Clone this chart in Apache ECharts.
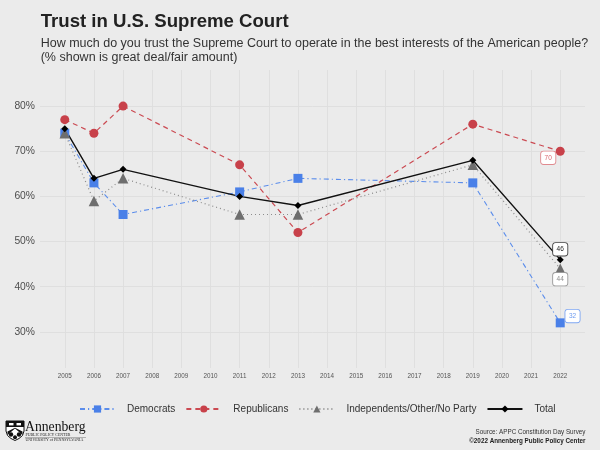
<!DOCTYPE html>
<html><head><meta charset="utf-8">
<script src="https://cdn.jsdelivr.net/npm/echarts@6/dist/echarts.min.js"></script>
<style>html,body{margin:0;padding:0;background:#EBEBEB}#c{width:600px;height:450px}</style>
</head><body><div id="c"></div>
<script>
const years = [2005, 2006, 2007, 2011, 2013, 2019, 2022];
const democrats = [74, 63, 56, 61, 64, 63, 32];
const republicans = [77, 74, 80, 67, 52, 76, 70];
const independents = [74, 59, 64, 56, 56, 67, 44];
const total = [75, 64, 66, 60, 58, 68, 46];
const seriesNames = ['Democrats', 'Republicans', 'Independents/Other/No Party', 'Total'];
const titleText = 'Trust in U.S. Supreme Court';
const subtitleLines = ['How much do you trust the Supreme Court to operate in the best interests of the American people?', '(% shown is great deal/fair amount)'];
const sourceText = 'Source: APPC Constitution Day Survey';
const copyrightText = '\u00A92022 Annenberg Public Policy Center';

const FONT = '"Liberation Sans", Arial, Helvetica, sans-serif';

function build(values, labelCfg) {
  const last = values.length - 1;
  return values.map((v, i) => {
    if (i !== last) return [years[i], v];
    return {
      value: [years[i], v],
      label: Object.assign({
        show: true, position: 'inside', fontFamily: FONT, fontSize: 6.5,
        backgroundColor: '#ffffff', borderWidth: 0.9, borderRadius: 2.5,
        padding: [2.5, 3.5, 2, 3.5], lineHeight: 8,
        formatter: p => String(p.value[1])
      }, labelCfg)
    };
  });
}

const shieldPts = [[0,0],[18,0],[18,10],[16.5,14.5],[13,17.5],[9,19.5],[5,17.5],[1.5,14.5],[0,10]];

const chart = echarts.init(document.getElementById('c'), null, {renderer: 'canvas'});
chart.setOption({
  animation: false,
  backgroundColor: '#EBEBEB',
  textStyle: {fontFamily: FONT},
  grid: {left: 40, right: 15, top: 70, bottom: 82},
  legend: {
    left: 74, top: 399,
    itemWidth: 35, itemHeight: 9, itemGap: 10,
    textStyle: {fontSize: 10, color: '#333333', padding: [0, 0, 0, 7]},
    data: seriesNames
  },
  xAxis: {
    type: 'value', min: 2004.15, max: 2022.85, splitNumber: 18,
    axisLine: {show: false}, axisTick: {show: false},
    axisLabel: {fontSize: 6.3, color: '#555555', margin: 5, showMinLabel: false, showMaxLabel: false,
      formatter: v => String(v)},
    splitLine: {show: true, showMinLine: false, showMaxLine: false, lineStyle: {color: '#DEDEDE', width: 0.9}}
  },
  yAxis: {
    type: 'value', min: 22, max: 88, splitNumber: 6,
    axisLine: {show: false}, axisTick: {show: false},
    axisLabel: {fontSize: 10.3, color: '#4D4D4D', margin: 5, showMinLabel: false, showMaxLabel: false,
      formatter: v => v + '%'},
    splitLine: {show: true, showMinLine: false, showMaxLine: false, lineStyle: {color: '#DEDEDE', width: 0.9}}
  },
  series: [
    {
      name: seriesNames[0], type: 'line', symbol: 'rect', symbolSize: 9,
      itemStyle: {color: '#4A80E8'},
      lineStyle: {color: '#5B8DEB', width: 1.1, type: [5, 3, 1.2, 3]},
      data: build(democrats, {offset: [12.3, -6.8], color: '#6F9CF0', borderColor: '#7EA6F2'})
    },
    {
      name: seriesNames[1], type: 'line', symbol: 'circle', symbolSize: 9,
      itemStyle: {color: '#C8414A'},
      lineStyle: {color: '#CB4A52', width: 1.2, type: [5, 4]},
      data: build(republicans, {offset: [-12, 6.6], color: '#D9666D', borderColor: '#E08A8F'})
    },
    {
      name: seriesNames[2], type: 'line', symbol: 'triangle', symbolSize: 10.5,
      itemStyle: {color: '#6E6E6E'},
      lineStyle: {color: '#8C8C8C', width: 1.2, type: [1, 3]},
      data: build(independents, {offset: [0, 10.5], color: '#8A8A8A', borderColor: '#9A9A9A'})
    },
    {
      name: seriesNames[3], type: 'line', symbol: 'diamond', symbolSize: 7,
      itemStyle: {color: '#000000'},
      lineStyle: {color: '#111111', width: 1.4, type: 'solid'},
      data: build(total, {offset: [0, -10.3], color: '#222222', borderColor: '#444444'})
    }
  ],
  graphic: [
    {type: 'text', x: 40.7, y: 22, style: {text: titleText, font: 'bold 18.6px ' + FONT, fill: '#222222', verticalAlign: 'middle'}},
    {type: 'text', x: 40.7, y: 44, style: {text: subtitleLines[0], font: '12.5px ' + FONT, fill: '#333333', verticalAlign: 'middle'}},
    {type: 'text', x: 40.7, y: 57.5, style: {text: subtitleLines[1], font: '12.5px ' + FONT, fill: '#333333', verticalAlign: 'middle'}},
    {type: 'text', x: 585.5, y: 432, style: {text: sourceText, font: '6.3px ' + FONT, fill: '#333333', align: 'right', verticalAlign: 'middle'}},
    {type: 'text', x: 585.5, y: 441, style: {text: copyrightText, font: 'bold 6.3px ' + FONT, fill: '#222222', align: 'right', verticalAlign: 'middle'}},
    {type: 'group', x: 6, y: 421, children: [
      {type: 'polygon', shape: {points: shieldPts}, style: {fill: '#ffffff', stroke: '#111111', lineWidth: 1}},
      {type: 'rect', shape: {x: 0, y: 0, width: 18, height: 6}, style: {fill: '#111111'}},
      {type: 'rect', shape: {x: 3, y: 2, width: 4.5, height: 2.4}, style: {fill: '#ffffff'}},
      {type: 'rect', shape: {x: 10.5, y: 2, width: 4.5, height: 2.4}, style: {fill: '#ffffff'}},
      {type: 'polygon', shape: {points: [[1.5,14],[9,7.5],[16.5,14],[16.5,10.5],[9,6.8],[1.5,10.5]]}, style: {fill: '#111111'}},
      {type: 'circle', shape: {cx: 5, cy: 13.5, r: 2.2}, style: {fill: '#111111'}},
      {type: 'circle', shape: {cx: 13, cy: 13.5, r: 2.2}, style: {fill: '#111111'}},
      {type: 'circle', shape: {cx: 9, cy: 16.3, r: 2}, style: {fill: '#111111'}}
    ]},
    {type: 'text', x: 25, y: 427.2, style: {text: 'Annenberg', font: '13.7px "Liberation Serif", "DejaVu Serif", serif', fill: '#111111', verticalAlign: 'middle'}},
    {type: 'text', x: 25.5, y: 435, style: {text: 'PUBLIC POLICY CENTER', font: '3.9px "Liberation Serif", serif', fill: '#222222', verticalAlign: 'middle'}},
    {type: 'line', shape: {x1: 25, y1: 437.5, x2: 86, y2: 437.5}, style: {stroke: '#555555', lineWidth: 0.4}},
    {type: 'text', x: 25.5, y: 440.3, style: {text: 'UNIVERSITY of PENNSYLVANIA', font: '3.9px "Liberation Serif", serif', fill: '#222222', verticalAlign: 'middle'}}
  ]
});
</script>
</body></html>
